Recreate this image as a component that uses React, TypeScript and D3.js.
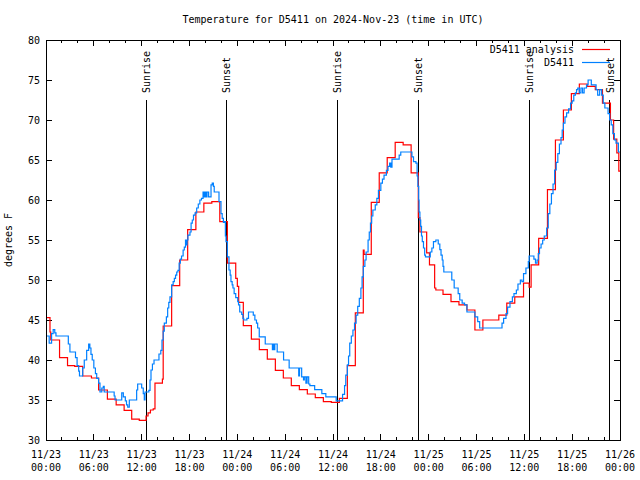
import React from "react";
import * as d3 from "d3";

// Hours since 2024-11-23 00:00 UTC, step-after values (deg F)
const analysisHours = [0, 0.5, 0.6, 1.7, 2.7, 3.6, 4.6, 5.7, 6.6, 7.7, 8.8, 9.8, 10.75, 11.7, 12.55, 12.8, 13.1, 13.45, 13.67, 14.6, 14.7, 15.76, 16.77, 17.77, 18.8, 19.8, 20.8, 21.8, 22.75, 23.8, 24.0, 24.17, 24.75, 25.76, 26.76, 27.76, 28.77, 29.77, 30.77, 31.78, 32.78, 33.78, 34.79, 35.79, 36.8, 37.8, 38.8, 39.8, 39.9, 40.8, 41.8, 42.8, 43.8, 44.8, 45.8, 46.7, 46.9, 47.75, 48.1, 48.75, 48.9, 49.8, 50.8, 51.8, 52.8, 53.8, 54.8, 56.8, 57.8, 58.8, 59.9, 60.6, 60.85, 61.8, 62.9, 63.9, 64.9, 65.9, 66.9, 67.9, 68.9, 69.8, 70.8, 71.2, 71.6, 71.85];
const analysisTemps = [45.3, 43.5, 42.5, 40.3, 39.3, 39.2, 38.0, 37.75, 36.25, 35.1, 34.4, 33.7, 32.6, 32.45, 33.0, 33.4, 33.75, 33.9, 37.1, 37.6, 44.25, 49.3, 52.5, 56.3, 58.5, 59.6, 59.8, 57.3, 52.1, 50.2, 49.2, 47.2, 44.3, 42.6, 41.3, 40.1, 38.7, 37.75, 36.8, 36.3, 35.75, 35.3, 34.8, 34.7, 35.2, 39.3, 45.9, 53.75, 53.2, 59.7, 63.4, 65.3, 67.2, 66.9, 63.4, 57.8, 56.0, 53.4, 51.9, 49.0, 48.75, 48.2, 47.3, 46.9, 46.25, 43.75, 45.0, 45.6, 47.1, 47.9, 49.6, 49.1, 51.9, 55.2, 61.3, 67.5, 71.25, 73.3, 74.5, 74.2, 73.8, 72.1, 70.0, 67.6, 65.9, 63.6];

const obsHours = [0, 0.4, 0.7, 0.9, 1.1, 1.25, 2.8, 3.0, 3.7, 3.9, 4.1, 4.2, 4.6, 4.8, 5.1, 5.35, 5.5, 5.64, 5.8, 6.0, 6.2, 6.36, 6.6, 6.77, 7.0, 7.19, 7.3, 8.55, 8.66, 9.5, 9.7, 9.95, 10.1, 10.25, 10.45, 11.37, 11.5, 12.0, 12.2, 12.33, 12.42, 12.9, 13.05, 13.17, 13.35, 13.55, 14.17, 14.4, 14.55, 14.7, 14.84, 15.1, 15.26, 15.4, 15.55, 15.76, 15.95, 16.1, 16.25, 16.4, 16.55, 16.7, 16.85, 17.0, 17.2, 17.35, 17.5, 17.6, 17.7, 17.8, 18.06, 18.2, 18.35, 18.5, 18.7, 18.9, 19.1, 19.3, 19.5, 19.7, 19.8, 19.95, 20.1, 20.2, 20.4, 20.7, 20.85, 21.0, 21.1, 21.7, 21.95, 22.1, 22.25, 22.4, 22.5, 22.58, 22.75, 22.95, 23.1, 23.2, 23.35, 23.45, 23.6, 23.8, 24.05, 24.15, 24.3, 24.55, 24.7, 24.8, 25.2, 25.4, 26.0, 26.2, 26.4, 26.55, 26.75, 27.5, 28.4, 28.5, 28.6, 28.7, 29.0, 29.8, 30.5, 31.7, 31.8, 32.07, 32.3, 32.4, 32.6, 32.75, 32.95, 33.1, 33.7, 34.6, 35.1, 36.4, 37.2, 37.45, 37.6, 37.8, 37.95, 38.1, 38.3, 38.5, 38.7, 38.9, 39.1, 39.3, 39.5, 39.65, 39.8, 40.0, 40.15, 40.4, 40.55, 40.7, 40.85, 41.0, 41.3, 41.5, 41.7, 42.0, 42.2, 42.4, 42.7, 42.9, 43.1, 43.25, 43.4, 44.3, 44.5, 45.9, 46.1, 46.4, 46.55, 46.65, 46.75, 46.8, 46.9, 47.0, 47.1, 47.2, 47.35, 47.5, 47.6, 48.2, 48.4, 48.6, 48.9, 49.2, 49.4, 49.55, 49.7, 49.8, 49.9, 50.9, 51.2, 51.7, 51.9, 52.2, 52.5, 52.8, 53.8, 54.15, 54.4, 57.2, 57.4, 57.7, 57.9, 58.2, 58.5, 58.7, 59.0, 59.2, 59.5, 59.7, 59.9, 60.2, 60.5, 60.6, 61.2, 61.4, 61.6, 61.75, 61.9, 62.1, 62.3, 62.5, 62.8, 63.0, 63.2, 63.4, 63.6, 63.8, 64.0, 64.2, 64.4, 64.6, 64.75, 64.9, 65.1, 65.3, 65.55, 65.8, 66.0, 66.2, 66.4, 66.55, 66.7, 66.9, 67.1, 67.3, 67.5, 67.8, 68.0, 68.4, 68.8, 69.0, 69.2, 69.45, 69.7, 69.9, 70.1, 70.5, 70.7, 70.9, 71.1, 71.3, 71.5, 71.8];
const obsTemps = [43.0, 42.1, 43.3, 43.8, 43.4, 43.0, 42.0, 41.0, 40.3, 39.3, 38.6, 38.0, 39.0, 40.0, 41.2, 42.0, 41.5, 40.7, 40.0, 39.0, 38.3, 37.7, 37.1, 36.0, 36.5, 36.7, 36.0, 35.5, 35.0, 35.9, 35.4, 34.9, 34.4, 34.1, 35.0, 36.25, 37.0, 36.5, 35.8, 35.0, 36.0, 36.2, 37.5, 38.75, 39.5, 40.0, 40.75, 41.2, 42.5, 43.6, 44.6, 45.4, 46.5, 47.2, 47.9, 49.4, 49.8, 50.2, 50.6, 51.0, 51.2, 52.1, 52.6, 53.0, 53.75, 54.1, 55.0, 54.4, 55.0, 55.6, 56.0, 57.1, 57.5, 58.1, 58.4, 59.0, 59.5, 60.0, 60.2, 61.0, 60.4, 61.0, 60.4, 61.0, 60.4, 61.9, 62.1, 61.7, 61.0, 59.8, 58.3, 57.7, 57.2, 57.3, 55.5, 54.8, 52.9, 51.25, 50.6, 49.8, 49.4, 49.0, 48.3, 47.8, 47.3, 46.9, 46.0, 45.7, 45.2, 45.0, 45.2, 46.0, 45.6, 45.0, 44.6, 44.0, 42.9, 42.0, 41.3, 42.0, 41.3, 42.0, 41.0, 40.0, 39.0, 38.0, 39.0, 37.9, 37.5, 37.9, 37.1, 37.9, 37.0, 36.8, 36.3, 35.8, 35.4, 34.9, 35.7, 36.8, 38.1, 39.4, 40.5, 42.1, 43.0, 43.75, 44.6, 45.6, 46.7, 47.7, 49.0, 50.4, 51.7, 52.5, 53.5, 55.0, 56.0, 57.1, 58.0, 58.75, 59.4, 60.2, 61.2, 62.1, 62.6, 63.1, 63.7, 64.2, 64.6, 64.1, 65.1, 65.6, 66.0, 65.4, 64.8, 64.6, 63.0, 61.7, 60.0, 58.5, 57.5, 56.7, 55.5, 54.8, 54.0, 53.1, 52.9, 53.5, 54.0, 54.8, 55.0, 54.5, 53.8, 53.1, 52.5, 51.7, 51.0, 50.0, 49.0, 48.3, 47.5, 47.1, 46.9, 46.0, 45.4, 44.8, 44.0, 44.6, 45.2, 45.8, 46.6, 47.3, 47.9, 48.3, 48.75, 49.5, 50.0, 49.8, 50.8, 51.5, 52.3, 53.0, 52.6, 52.1, 52.5, 53.3, 54.0, 54.5, 55.0, 55.5, 56.5, 58.3, 59.5, 60.8, 62.0, 63.75, 64.7, 65.8, 67.0, 67.8, 68.75, 69.6, 70.4, 70.9, 71.4, 72.1, 72.4, 73.1, 73.4, 73.8, 74.0, 73.4, 74.0, 73.4, 74.0, 74.4, 75.0, 74.4, 74.4, 73.8, 73.1, 73.8, 73.1, 72.1, 71.5, 70.8, 70.0, 69.4, 68.3, 67.5, 67.1, 66.0];

const sunHours = [12.58, 22.62, 36.55, 46.71, 60.63, 70.7];
const sunLabels = ["Sunrise", "Sunset", "Sunrise", "Sunset", "Sunrise", "Sunset"];

const xTickHours = [0, 6, 12, 18, 24, 30, 36, 42, 48, 54, 60, 66, 72];
const xTickDates = ["11/23", "11/23", "11/23", "11/23", "11/24", "11/24", "11/24", "11/24", "11/25", "11/25", "11/25", "11/25", "11/26"];
const xTickTimes = ["00:00", "06:00", "12:00", "18:00", "00:00", "06:00", "12:00", "18:00", "00:00", "06:00", "12:00", "18:00", "00:00"];
const yTicks = [30, 35, 40, 45, 50, 55, 60, 65, 70, 75, 80];

const seriesNames = ["D5411 analysis", "D5411"];
const seriesColors = ["#ff0000", "#0080ff"];

const FONT = "'DejaVu Sans Mono', monospace";

export default function App() {
  const L = 46, R = 620, T = 40, B = 440;
  const x = d3.scaleLinear().domain([0, 72]).range([L, R]);
  const y = d3.scaleLinear().domain([30, 80]).range([B, T]);
  const line = d3
    .line<[number, number]>()
    .x((d) => x(d[0]))
    .y((d) => y(d[1]))
    .curve(d3.curveStepAfter);

  const mk = (hs: number[], vs: number[]): [number, number][] => {
    const pts: [number, number][] = hs.map((h, i) => [h, vs[i]]);
    pts.push([72, vs[vs.length - 1]]);
    return pts;
  };
  const series = [mk(analysisHours, analysisTemps), mk(obsHours, obsTemps)];
  const minor = d3.range(0, 73, 2).filter((h) => h % 6 !== 0);

  return (
    <svg width={640} height={480} style={{ position: "absolute", left: 0, top: 0, background: "#fff" }} fontFamily={FONT} fontSize={10}>
      <rect x={0} y={0} width={640} height={480} fill="#fff" />
      <text x={333} y={23} textAnchor="middle">Temperature for D5411 on 2024-Nov-23 (time in UTC)</text>
      <text transform={`translate(12,240) rotate(-90)`} textAnchor="middle">degrees F</text>
      {yTicks.map((t) => (
        <g key={"y" + t}>
          <line x1={L} x2={L + 6} y1={y(t)} y2={y(t)} stroke="#000" shapeRendering="crispEdges" />
          <line x1={R - 6} x2={R} y1={y(t)} y2={y(t)} stroke="#000" shapeRendering="crispEdges" />
          <text x={L - 6} y={y(t) + 4} textAnchor="end">{t}</text>
        </g>
      ))}
      {xTickHours.map((h, i) => (
        <g key={"x" + h}>
          <line x1={x(h)} x2={x(h)} y1={B} y2={B - 6} stroke="#000" shapeRendering="crispEdges" />
          <line x1={x(h)} x2={x(h)} y1={T} y2={T + 6} stroke="#000" shapeRendering="crispEdges" />
          <text x={x(h)} y={B + 18} textAnchor="middle">{xTickDates[i]}</text>
          <text x={x(h)} y={B + 31} textAnchor="middle">{xTickTimes[i]}</text>
        </g>
      ))}
      {minor.map((h) => (
        <g key={"m" + h}>
          <line x1={x(h)} x2={x(h)} y1={B} y2={B - 3} stroke="#000" shapeRendering="crispEdges" />
          <line x1={x(h)} x2={x(h)} y1={T} y2={T + 3} stroke="#000" shapeRendering="crispEdges" />
        </g>
      ))}
      {sunHours.map((h, i) => (
        <g key={"s" + i}>
          <line x1={x(h)} x2={x(h)} y1={100} y2={B} stroke="#000" strokeWidth={1} shapeRendering="crispEdges" />
          <text transform={`translate(${x(h) + 4},93) rotate(-90)`} textAnchor="start">{sunLabels[i]}</text>
        </g>
      ))}
      {series.map((pts, i) => (
        <path key={"p" + i} d={line(pts) || ""} fill="none" stroke={seriesColors[i]} strokeWidth={1.2} />
      ))}
      {seriesNames.map((n, i) => (
        <g key={"l" + i}>
          <text x={574} y={53 + i * 13} textAnchor="end">{n}</text>
          <line x1={582} x2={610} y1={49.5 + i * 13} y2={49.5 + i * 13} stroke={seriesColors[i]} strokeWidth={1.2} />
        </g>
      ))}
      <rect x={L} y={T} width={R - L} height={B - T} fill="none" stroke="#000" shapeRendering="crispEdges" />
    </svg>
  );
}
